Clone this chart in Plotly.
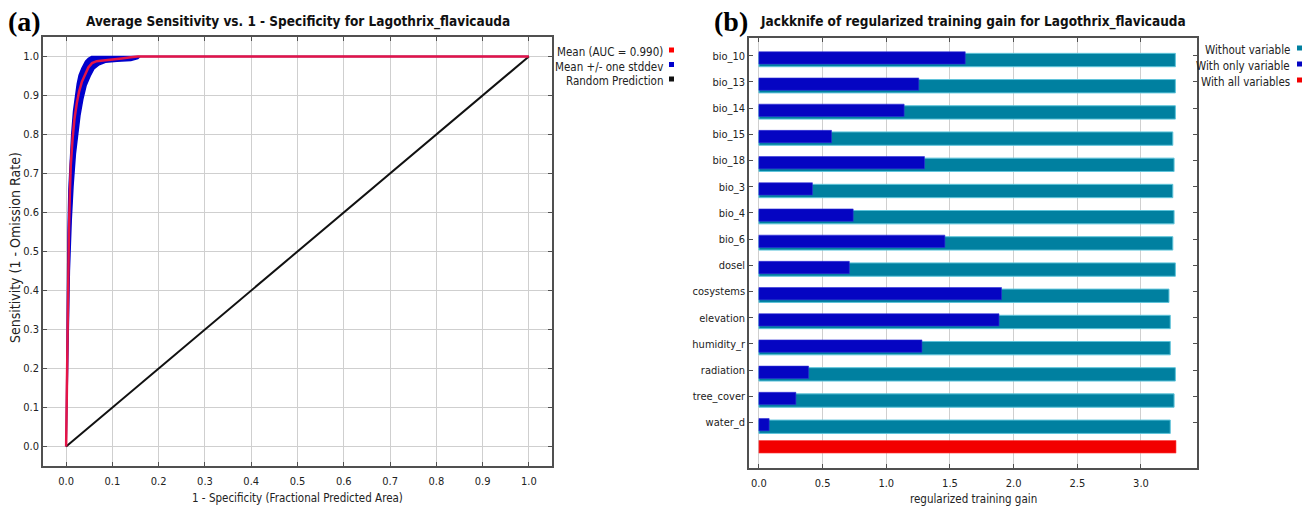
import plotly.graph_objects as go

# ---------------- data: ROC (panel a) ----------------
fpr_mean = [0.0, 0.001, 0.002, 0.004, 0.006, 0.008, 0.010, 0.014, 0.018, 0.023, 0.028,
            0.034, 0.041, 0.048, 0.056, 0.066, 0.080, 0.100, 0.120, 0.140, 0.155, 1.0]
tpr_mean = [0.0, 0.10, 0.30, 0.45, 0.55, 0.65, 0.72, 0.79, 0.84, 0.88, 0.91,
            0.935, 0.955, 0.972, 0.983, 0.988, 0.990, 0.992, 0.995, 0.998, 1.0, 1.0]

fpr_upper = [0.0, 0.001, 0.002, 0.004, 0.006, 0.009, 0.012, 0.016, 0.020, 0.024,
             0.028, 0.034, 0.042, 0.048, 0.055, 1.0]
tpr_upper = [0.0, 0.15, 0.35, 0.55, 0.66, 0.74, 0.80, 0.86, 0.90, 0.93,
             0.952, 0.970, 0.988, 0.995, 1.0, 1.0]

fpr_lower = [0.0, 0.002, 0.004, 0.007, 0.011, 0.015, 0.020, 0.025, 0.030, 0.036,
             0.043, 0.052, 0.060, 0.070, 0.085, 0.110, 0.140, 0.155, 0.160, 1.0]
tpr_lower = [0.0, 0.08, 0.25, 0.45, 0.58, 0.67, 0.75, 0.80, 0.85, 0.89,
             0.925, 0.950, 0.968, 0.978, 0.985, 0.988, 0.990, 0.995, 1.0, 1.0]

random_x = [0.0, 1.0]
random_y = [0.0, 1.0]

roc_ticks = [0.0, 0.1, 0.2, 0.3, 0.4, 0.5, 0.6, 0.7, 0.8, 0.9, 1.0]
roc_ticktext = ["0.0", "0.1", "0.2", "0.3", "0.4", "0.5", "0.6", "0.7", "0.8", "0.9", "1.0"]

# ---------------- data: jackknife (panel b) ----------------
variables = ["bio_10", "bio_13", "bio_14", "bio_15", "bio_18", "bio_3", "bio_4", "bio_6",
             "dosel", "cosystems", "elevation", "humidity_r", "radiation", "tree_cover", "water_d"]
gain_without = [3.27, 3.27, 3.27, 3.25, 3.26, 3.25, 3.26, 3.25,
                3.27, 3.22, 3.23, 3.23, 3.27, 3.26, 3.23]
gain_only = [1.62, 1.255, 1.14, 0.57, 1.30, 0.42, 0.74, 1.46,
             0.71, 1.905, 1.885, 1.28, 0.39, 0.29, 0.08]
gain_all = [3.275]

gain_ticks = [0.0, 0.5, 1.0, 1.5, 2.0, 2.5, 3.0]
gain_ticktext = ["0.0", "0.5", "1.0", "1.5", "2.0", "2.5", "3.0"]

# ---------------- styling ----------------
W, H = 1306, 506
FONT = "DejaVu Sans Condensed, Liberation Sans Narrow, Arial Narrow, sans-serif"
SERIF = "Liberation Serif, Times New Roman, serif"
FRAME = "#505050"
GRID = "#cfcfcf"
TEAL = "#0080a0"
BLUE = "#0505c2"
RED = "#f20000"
TXT = "#222222"


def px(x):
    return x / W


def py(y):
    return 1 - y / H


fig = go.Figure()

# stddev band
fig.add_trace(go.Scatter(
    x=fpr_upper + fpr_lower[::-1], y=tpr_upper + tpr_lower[::-1],
    fill="toself", fillcolor="#0000cc", mode="lines",
    line=dict(color="#0000cc", width=1.5), xaxis="x", yaxis="y",
    showlegend=False, hoverinfo="skip"))
# random prediction
fig.add_trace(go.Scatter(
    x=random_x, y=random_y, mode="lines", line=dict(color="#111111", width=2),
    xaxis="x", yaxis="y", showlegend=False))
# mean
fig.add_trace(go.Scatter(
    x=fpr_mean, y=tpr_mean, mode="lines", line=dict(color="rgb(228,20,70)", width=2.5),
    xaxis="x", yaxis="y", showlegend=False))

# jackknife bars
ypos = list(range(len(variables)))
fig.add_trace(go.Bar(
    y=ypos, x=gain_without, orientation="h", offset=-0.09, width=0.51,
    marker=dict(color=TEAL, line=dict(color="#5fc4da", width=1)),
    xaxis="x2", yaxis="y2", showlegend=False))
fig.add_trace(go.Bar(
    y=ypos, x=gain_only, orientation="h", offset=-0.15, width=0.47,
    marker=dict(color=BLUE, line=dict(color="#3030d8", width=0.6)),
    xaxis="x2", yaxis="y2", showlegend=False))
fig.add_trace(go.Bar(
    y=[len(variables)], x=gain_all, orientation="h", offset=-0.31, width=0.48,
    marker=dict(color=RED, line=dict(color="#ff4040", width=0.6)),
    xaxis="x2", yaxis="y2", showlegend=False))

axis_common = dict(
    showline=True, linecolor=FRAME, linewidth=1.5, mirror="ticks",
    ticks="inside", ticklen=4, tickcolor=FRAME, tickwidth=1,
    zeroline=False, tickfont=dict(family=FONT, size=11, color=TXT),
)

fig.update_layout(
    width=W, height=H, margin=dict(l=0, r=0, t=0, b=0),
    paper_bgcolor="white", plot_bgcolor="white", barmode="overlay",
    xaxis=dict(domain=[px(43), px(552)], range=[-0.05, 1.05], anchor="y",
               tickvals=roc_ticks, ticktext=roc_ticktext, showgrid=True,
               gridcolor=GRID, gridwidth=1, ticklabelstandoff=4, **axis_common),
    yaxis=dict(domain=[py(466), py(37)], range=[-0.05, 1.05], anchor="x",
               tickvals=roc_ticks, ticktext=roc_ticktext, showgrid=True,
               gridcolor=GRID, gridwidth=1, ticklabelstandoff=0, **axis_common),
    xaxis2=dict(domain=[px(749), px(1197)], range=[-0.078, 3.44], anchor="y2",
                tickvals=gain_ticks, ticktext=gain_ticktext, showgrid=True,
                gridcolor=GRID, gridwidth=1, ticklabelstandoff=4, **axis_common),
    yaxis2=dict(domain=[py(468), py(38)], range=[15.74, -0.676], anchor="x2",
                tickvals=ypos, ticktext=variables, showgrid=False,
                ticklabelstandoff=0, **axis_common),
)

ann = []
# panel letters
ann.append(dict(text="<b>(a)</b>", x=px(24), y=py(22), font=dict(family=SERIF, size=28, color="black")))
ann.append(dict(text="<b>(b)</b>", x=px(731), y=py(22), font=dict(family=SERIF, size=28, color="black")))
# titles
ann.append(dict(text="<b>Average Sensitivity vs. 1 - Specificity for Lagothrix_flavicauda</b>",
                x=px(297.5), y=py(22), font=dict(family=FONT, size=13.5, color="#111111")))
ann.append(dict(text="<b>Jackknife of regularized training gain for Lagothrix_flavicauda</b>",
                x=px(973), y=py(22), font=dict(family=FONT, size=13.5, color="#111111")))
# axis titles
ann.append(dict(text="1 - Specificity (Fractional Predicted Area)", x=px(297.5), y=py(498),
                font=dict(family=FONT, size=11.5, color=TXT)))
ann.append(dict(text="Sensitivity (1 - Omission Rate)", x=px(15), y=py(248), textangle=-90,
                font=dict(family=FONT, size=14, color=TXT)))
ann.append(dict(text="regularized training gain", x=px(973), y=py(499),
                font=dict(family=FONT, size=11.5, color=TXT)))

# legends (text right-aligned, colour square to the right)
legend_a = [("Mean (AUC = 0.990)", "#ff0000"), ("Mean +/- one stddev", "#0000cc"),
            ("Random Prediction", "#111111")]
legend_b = [("Without variable", TEAL), ("With only variable", BLUE), ("With all variables", RED)]
legend_a_y = [52, 66.5, 81]
legend_b_y = [50, 66, 82]

shapes = []
for (txt, col), yy in zip(legend_a, legend_a_y):
    ann.append(dict(text=txt, x=px(665), y=py(yy), xanchor="right",
                    font=dict(family=FONT, size=11.5, color=TXT)))
    shapes.append(dict(type="rect", xref="paper", yref="paper", x0=px(669), x1=px(674),
                       y0=py(yy + 0.5), y1=py(yy - 4.5), fillcolor=col, line=dict(width=0)))
for (txt, col), yy in zip(legend_b, legend_b_y):
    ann.append(dict(text=txt, x=px(1292), y=py(yy), xanchor="right",
                    font=dict(family=FONT, size=11.5, color=TXT)))
    shapes.append(dict(type="rect", xref="paper", yref="paper", x0=px(1297), x1=px(1302),
                       y0=py(yy + 0.5), y1=py(yy - 4.5), fillcolor=col, line=dict(width=0)))

for a in ann:
    a.setdefault("xanchor", "center")
    a.update(xref="paper", yref="paper", yanchor="middle", showarrow=False)

fig.update_layout(annotations=ann, shapes=shapes)

fig.write_html("out.html", config={"displayModeBar": False},
               post_script="document.body.style.margin='0px';")
